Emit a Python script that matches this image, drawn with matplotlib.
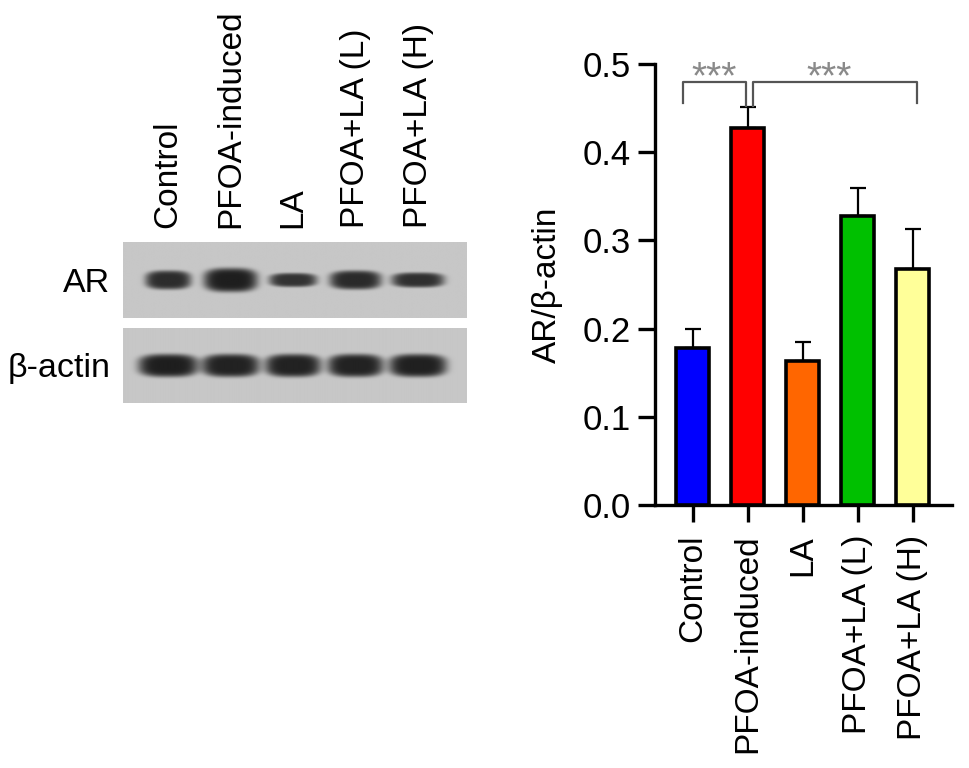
import numpy as np
import matplotlib
matplotlib.use("Agg")
import matplotlib.pyplot as plt

plt.rcParams["font.family"] = ["Liberation Sans", "DejaVu Sans"]

# groups (same order in blot and bar chart)
groups = ["Control", "PFOA-induced", "LA", "PFOA+LA (L)", "PFOA+LA (H)"]

# quantified AR/beta-actin ratio and upper error (SD)
ratio = [0.178, 0.428, 0.163, 0.328, 0.268]
ratio_err = [0.021, 0.023, 0.022, 0.031, 0.045]
bar_colors = ["#0000ff", "#ff0000", "#ff6600", "#00c000", "#ffff99"]

# western blot bands: width / height (pixels) and darkness per lane
ar_width = [46, 54, 48, 52, 53]
ar_height = [19, 24, 14, 19, 15]
ar_dark = [0.92, 1.0, 0.88, 0.93, 0.9]
actin_width = [60, 58, 56, 56, 58]
actin_height = [23, 23, 23, 23, 23]
actin_dark = [1.0, 0.98, 0.98, 0.98, 0.99]

# significance brackets: (x_left, x_right, star_x)
brackets = [(-0.18, 0.96, 0.38), (1.09, 4.07, 2.48)]

W, H = 969, 768
fig = plt.figure(figsize=(W / 100, H / 100), dpi=100)


def fig_rect(x0, y0, x1, y1):
  """pixel box (top-left origin) -> figure fraction rect"""
  return [x0 / W, 1 - y1 / H, (x1 - x0) / W, (y1 - y0) / H]


LANE_PX = 62.5
XMIN, XMAX = -0.72, 4.78


def draw_blot(ax, widths, heights, darkness, box_h, label):
  """draw one blot strip with pill-shaped dark bands"""
  bg = 0.78
  xs = np.linspace(XMIN, XMAX, 500)
  ys = np.linspace(0, box_h, 150)
  X, Y = np.meshgrid(xs, ys)
  img = np.full(X.shape, bg)
  for i in range(len(widths)):
    wx = widths[i] / 2 / LANE_PX
    hy = heights[i] / 2
    r = (np.abs((X - i) / wx) ** 3 + np.abs((Y - box_h / 2) / hy) ** 3) ** (1 / 3)
    prof = np.exp(-r ** 6)
    img = img - (bg - 0.12) * darkness[i] * prof
  ax.imshow(img, cmap="gray", vmin=0, vmax=1, aspect="auto",
            extent=[XMIN, XMAX, box_h, 0], interpolation="bilinear")
  ax.set_xlim(XMIN, XMAX)
  ax.set_ylim(box_h, 0)
  for s in ax.spines.values():
    s.set_visible(False)
  ax.set_yticks([box_h / 2])
  ax.set_yticklabels([label], fontsize=24.5)
  ax.tick_params(axis="y", length=0, pad=9)


ax_ar = fig.add_axes(fig_rect(123, 242, 467, 318))
draw_blot(ax_ar, ar_width, ar_height, ar_dark, 76, "AR")
ax_ar.xaxis.tick_top()
ax_ar.set_xticks(range(len(groups)))
ax_ar.set_xticklabels(groups, rotation=90, fontsize=24)
ax_ar.tick_params(axis="x", length=0, pad=10)

ax_actin = fig.add_axes(fig_rect(123, 328, 467, 403))
draw_blot(ax_actin, actin_width, actin_height, actin_dark, 75, "β-actin")
ax_actin.set_xticks([])

# bar chart
ax = fig.add_axes(fig_rect(655, 64, 952, 505))
x = np.arange(len(groups))
ax.bar(x, ratio, width=0.6, color=bar_colors, edgecolor="black", linewidth=2.6, zorder=3)
ax.errorbar(x, ratio, yerr=[np.zeros(len(ratio)), ratio_err], fmt="none",
            ecolor="black", elinewidth=1.6, capsize=6, capthick=1.6, zorder=2)
ax.set_xlim(-0.69, 4.71)
ax.set_ylim(0, 0.5)
ax.set_yticks([0.0, 0.1, 0.2, 0.3, 0.4, 0.5])
ax.set_yticklabels(["0.0", "0.1", "0.2", "0.3", "0.4", "0.5"])
ax.set_xticks(x)
ax.set_xticklabels(groups, rotation=90)
ax.tick_params(axis="both", labelsize=24, width=2.4, length=12.5)
ax.tick_params(axis="y", labelsize=25, pad=5)
ax.tick_params(axis="x", pad=9)
ax.spines["top"].set_visible(False)
ax.spines["right"].set_visible(False)
ax.spines["left"].set_linewidth(2.4)
ax.spines["bottom"].set_linewidth(2.4)
fig.text(547 / W, 1 - 285 / H, "AR/β-actin", rotation=90, ha="center", va="center", fontsize=24)

# significance marks
for i, (xl, xr, sx) in enumerate(brackets):
  inner_l = 0.452 if i == 1 else 0.456
  inner_r = 0.452 if i == 0 else 0.456
  ax.plot([xl, xl, xr, xr], [inner_l, 0.48, 0.48, inner_r], color="#555555",
          lw=1.6, clip_on=False, zorder=4)
  ax.text(sx, 0.473, "***", ha="center", va="baseline", fontsize=28,
          color="#8a8a8a", clip_on=False)

fig.savefig("out.png", dpi=100)
